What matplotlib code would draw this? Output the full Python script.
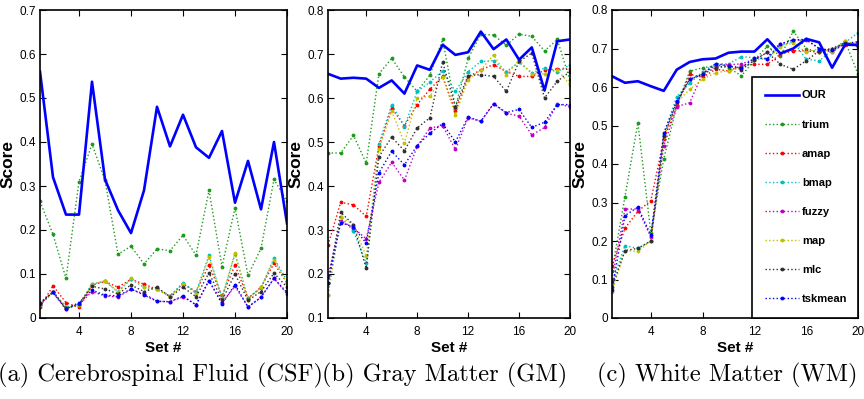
import numpy as np
import matplotlib
matplotlib.use("Agg")
import matplotlib.pyplot as plt

plt.rcParams["font.family"] = ["Liberation Sans Narrow", "Liberation Sans", "DejaVu Sans"]

sets = list(range(1, 21))
methods = ["OUR", "trium", "amap", "bmap", "fuzzy", "map", "mlc", "tskmean"]

# (a) CSF
our_a = [0.56, 0.32, 0.235, 0.235, 0.537, 0.315, 0.245, 0.193, 0.29, 0.48,
         0.39, 0.462, 0.388, 0.364, 0.425, 0.262, 0.357, 0.247, 0.40, 0.215]
trium_a = [0.265, 0.19, 0.09, 0.31, 0.395, 0.313, 0.145, 0.163, 0.123, 0.157,
           0.153, 0.188, 0.143, 0.29, 0.117, 0.25, 0.097, 0.158, 0.315, 0.265]
amap_a = [0.025, 0.073, 0.035, 0.024, 0.075, 0.083, 0.07, 0.088, 0.077, 0.065,
          0.05, 0.078, 0.06, 0.12, 0.05, 0.12, 0.045, 0.07, 0.124, 0.08]
bmap_a = [0.03, 0.06, 0.025, 0.03, 0.078, 0.083, 0.06, 0.088, 0.07, 0.065,
          0.05, 0.08, 0.058, 0.143, 0.045, 0.146, 0.045, 0.068, 0.136, 0.085]
fuzzy_a = [0.03, 0.058, 0.02, 0.03, 0.06, 0.05, 0.048, 0.065, 0.055, 0.038,
           0.037, 0.048, 0.03, 0.085, 0.035, 0.072, 0.025, 0.047, 0.09, 0.055]
map_a = [0.03, 0.06, 0.022, 0.03, 0.076, 0.085, 0.058, 0.09, 0.07, 0.065,
         0.048, 0.078, 0.055, 0.138, 0.045, 0.148, 0.042, 0.07, 0.132, 0.08]
mlc_a = [0.032, 0.06, 0.022, 0.032, 0.072, 0.066, 0.055, 0.075, 0.06, 0.07,
         0.048, 0.07, 0.048, 0.103, 0.04, 0.1, 0.04, 0.06, 0.102, 0.07]
tsk_a = [0.035, 0.058, 0.02, 0.035, 0.063, 0.052, 0.05, 0.066, 0.052, 0.038,
         0.037, 0.05, 0.03, 0.085, 0.032, 0.076, 0.025, 0.047, 0.09, 0.058]

# (b) GM
our_b = [0.655, 0.644, 0.646, 0.644, 0.623, 0.64, 0.61, 0.674, 0.664, 0.721,
         0.698, 0.704, 0.751, 0.711, 0.733, 0.687, 0.715, 0.617, 0.729, 0.733]
trium_b = [0.475, 0.475, 0.515, 0.452, 0.655, 0.69, 0.648, 0.615, 0.652, 0.733,
           0.578, 0.69, 0.745, 0.743, 0.72, 0.745, 0.74, 0.707, 0.733, 0.64]
amap_b = [0.266, 0.363, 0.357, 0.331, 0.49, 0.577, 0.537, 0.585, 0.62, 0.649,
          0.57, 0.648, 0.664, 0.676, 0.66, 0.649, 0.649, 0.663, 0.666, 0.665]
bmap_b = [0.153, 0.33, 0.297, 0.225, 0.496, 0.585, 0.535, 0.615, 0.636, 0.662,
          0.615, 0.66, 0.683, 0.685, 0.66, 0.681, 0.657, 0.668, 0.66, 0.675]
fuzzy_b = [0.195, 0.32, 0.305, 0.28, 0.408, 0.454, 0.413, 0.49, 0.532, 0.537,
           0.483, 0.555, 0.547, 0.587, 0.565, 0.559, 0.516, 0.533, 0.587, 0.58]
map_b = [0.153, 0.33, 0.312, 0.24, 0.483, 0.57, 0.498, 0.6, 0.604, 0.648,
         0.562, 0.642, 0.664, 0.698, 0.653, 0.686, 0.655, 0.655, 0.664, 0.63]
mlc_b = [0.18, 0.34, 0.312, 0.213, 0.467, 0.511, 0.48, 0.532, 0.555, 0.682,
         0.58, 0.651, 0.653, 0.649, 0.615, 0.683, 0.702, 0.6, 0.638, 0.66]
tsk_b = [0.179, 0.317, 0.307, 0.27, 0.43, 0.479, 0.448, 0.492, 0.52, 0.542,
         0.5, 0.557, 0.547, 0.587, 0.567, 0.574, 0.533, 0.545, 0.585, 0.585]

# (c) WM
our_c = [0.628, 0.611, 0.615, 0.602, 0.59, 0.645, 0.665, 0.672, 0.674, 0.689,
         0.692, 0.692, 0.724, 0.687, 0.70, 0.725, 0.716, 0.65, 0.71, 0.709]
trium_c = [0.123, 0.315, 0.507, 0.22, 0.414, 0.55, 0.641, 0.65, 0.655, 0.65,
           0.629, 0.67, 0.706, 0.68, 0.745, 0.70, 0.69, 0.695, 0.72, 0.633]
amap_c = [0.134, 0.233, 0.277, 0.305, 0.464, 0.552, 0.633, 0.625, 0.646, 0.642,
          0.655, 0.659, 0.659, 0.685, 0.694, 0.694, 0.69, 0.70, 0.71, 0.715]
bmap_c = [0.09, 0.188, 0.181, 0.20, 0.477, 0.575, 0.61, 0.64, 0.66, 0.66,
          0.679, 0.676, 0.672, 0.708, 0.718, 0.672, 0.668, 0.695, 0.715, 0.741]
fuzzy_c = [0.10, 0.283, 0.283, 0.21, 0.447, 0.549, 0.559, 0.635, 0.655, 0.658,
           0.66, 0.672, 0.69, 0.711, 0.723, 0.722, 0.70, 0.69, 0.715, 0.712]
map_c = [0.068, 0.175, 0.173, 0.20, 0.47, 0.56, 0.594, 0.62, 0.637, 0.642,
         0.65, 0.672, 0.672, 0.705, 0.715, 0.69, 0.70, 0.69, 0.72, 0.71]
mlc_c = [0.08, 0.175, 0.181, 0.20, 0.472, 0.56, 0.62, 0.633, 0.65, 0.655,
         0.645, 0.67, 0.69, 0.659, 0.646, 0.668, 0.694, 0.70, 0.715, 0.705]
tsk_c = [0.073, 0.266, 0.288, 0.215, 0.481, 0.564, 0.62, 0.633, 0.661, 0.655,
         0.65, 0.676, 0.674, 0.712, 0.722, 0.724, 0.70, 0.695, 0.712, 0.718]

captions = ["(a) Cerebrospinal Fluid (CSF)", "(b) Gray Matter (GM)", "(c) White Matter (WM)"]
ylims = [(0, 0.7), (0.1, 0.8), (0, 0.8)]

colors = ["#0000ff", "#1e9a1e", "#ff0000", "#00c0c0", "#c000c0", "#c0c000", "#303030", "#0000ff"]

panels = [
    [our_a, trium_a, amap_a, bmap_a, fuzzy_a, map_a, mlc_a, tsk_a],
    [our_b, trium_b, amap_b, bmap_b, fuzzy_b, map_b, mlc_b, tsk_b],
    [our_c, trium_c, amap_c, bmap_c, fuzzy_c, map_c, mlc_c, tsk_c],
]

fig = plt.figure(figsize=(8.64, 3.99), dpi=100)
lefts = [40 / 864, 328 / 864, 612 / 864]
widths = [247 / 864, 242 / 864, 246 / 864]
bottom = 81 / 399
height = 308 / 399
cap_x = [161 / 864, 445 / 864, 727 / 864]

for i, series in enumerate(panels):
    ax = fig.add_axes([lefts[i], bottom, widths[i], height])
    handles = []
    # dotted methods first, OUR on top
    for j in range(1, 8):
        h, = ax.plot(sets, series[j], ":", color=colors[j], lw=1.0,
                     marker=".", markersize=3.5, label=methods[j])
        handles.append(h)
    h0, = ax.plot(sets, series[0], "-", color=colors[0], lw=1.9, label="OUR")
    handles.insert(0, h0)

    ax.set_xlim(1, 20)
    ax.set_ylim(*ylims[i])
    ax.set_xticks([4, 8, 12, 16, 20])
    ax.set_yticks(np.round(np.arange(ylims[i][0], ylims[i][1] + 0.001, 0.1), 1))
    ax.yaxis.set_major_formatter(plt.FuncFormatter(lambda v, p: "0" if v == 0 else f"{v:.1f}"))
    ax.tick_params(direction="in", top=True, right=True, labelsize=8.5, length=4, width=0.8)
    ax.tick_params(axis="x", pad=6)
    ax.tick_params(axis="y", pad=3)
    for sp in ax.spines.values():
        sp.set_linewidth(1.2)
    ax.set_xlabel("Set #", fontsize=11, fontweight="bold", labelpad=2)
    ax.set_ylabel("Score", fontsize=12.5, fontweight="bold", labelpad=3)

    fig.text(cap_x[i], 0.06, captions[i], ha="center", va="center",
             family="cmr10", fontsize=17.6)

    if i == 2:
        leg = ax.legend(handles=handles, loc="upper left",
                        bbox_to_anchor=(0.569, 0.0, 0.431, 0.782), mode="expand",
                        borderaxespad=0, fancybox=False, edgecolor="black", framealpha=1,
                        prop={"weight": "bold", "size": 8}, handlelength=3.0,
                        labelspacing=1.72, borderpad=1.2, handletextpad=0.3)
        leg.get_frame().set_linewidth(1.2)

plt.savefig("out.png", dpi=100)
